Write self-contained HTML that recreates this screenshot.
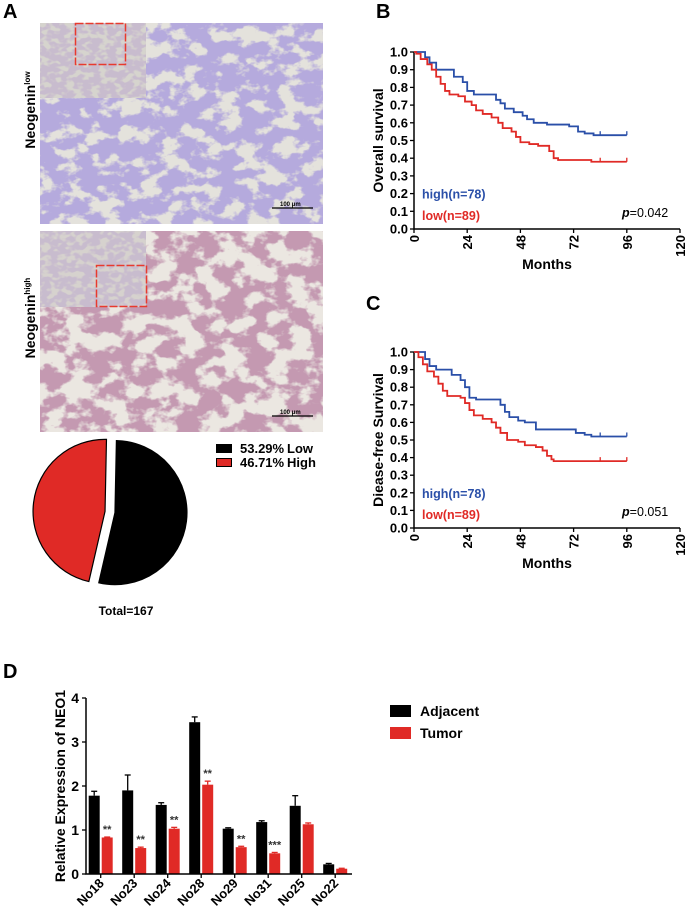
<!DOCTYPE html>
<html><head><meta charset="utf-8">
<style>
body{margin:0;background:#fff;}
svg text{font-family:"Liberation Sans",Arial,sans-serif;font-weight:bold;}
</style></head>
<body>
<svg id="fig" width="685" height="914" viewBox="0 0 685 914" xmlns="http://www.w3.org/2000/svg">
<defs>
  <filter id="noiseLow" x="0" y="0" width="100%" height="100%">
    <feTurbulence type="fractalNoise" baseFrequency="0.05 0.07" numOctaves="4" seed="7" result="n"/>
    <feColorMatrix in="n" type="matrix" values="0 0 0 0 0.46  0 0 0 0 0.40  0 0 0 0 0.72  0 0 0 -8 4.9"/>
  </filter>
  <filter id="noiseHigh" x="0" y="0" width="100%" height="100%">
    <feTurbulence type="fractalNoise" baseFrequency="0.045 0.06" numOctaves="4" seed="11" result="n"/>
    <feColorMatrix in="n" type="matrix" values="0 0 0 0 0.55  0 0 0 0 0.32  0 0 0 0 0.44  0 0 0 -8 4.6"/>
  </filter>
  <filter id="noiseInset" x="0" y="0" width="100%" height="100%">
    <feTurbulence type="fractalNoise" baseFrequency="0.12 0.18" numOctaves="2" seed="3" result="n"/>
    <feColorMatrix in="n" type="matrix" values="0 0 0 0 0.58  0 0 0 0 0.50  0 0 0 0 0.62  0 0 0 -6 3.8"/>
  </filter>
</defs>

<!-- Panel A -->
<text x="3" y="18" font-size="20">A</text>
<g>
  <rect x="40" y="23" width="283" height="201" fill="#e4e2dc"/>
  <rect x="40" y="23" width="283" height="201" filter="url(#noiseLow)"/>
  <rect x="40" y="23" width="106" height="75" fill="#d6d4ce"/>
  <rect x="40" y="23" width="106" height="75" filter="url(#noiseInset)"/>
  <rect x="75.5" y="23.5" width="50" height="41" fill="none" stroke="#e83a2e" stroke-width="1.5" stroke-dasharray="8 2"/>
  <line x1="272" y1="208" x2="313" y2="208" stroke="#000" stroke-width="1.2"/>
  <text x="280" y="206" font-size="6" font-weight="normal">100 μm</text>
</g>
<text transform="translate(35,110) rotate(-90)" text-anchor="middle" font-size="14">Neogenin<tspan font-size="8" dy="-5">low</tspan></text>

<g>
  <rect x="40" y="231" width="283" height="201" fill="#ebe7e1"/>
  <rect x="40" y="231" width="283" height="201" filter="url(#noiseHigh)"/>
  <rect x="40" y="231" width="106" height="76" fill="#d6d2ce"/>
  <rect x="40" y="231" width="106" height="76" filter="url(#noiseInset)"/>
  <rect x="96.5" y="265.5" width="50" height="41" fill="none" stroke="#e83a2e" stroke-width="1.5" stroke-dasharray="8 2"/>
  <line x1="272" y1="416" x2="313" y2="416" stroke="#000" stroke-width="1.2"/>
  <text x="280" y="414" font-size="6" font-weight="normal">100 μm</text>
</g>
<text transform="translate(35,318) rotate(-90)" text-anchor="middle" font-size="14">Neogenin<tspan font-size="8" dy="-5">high</tspan></text>

<g id="pie"></g>
<g>
  <rect x="216" y="444" width="16" height="9" fill="#000"/>
  <text x="240" y="453" font-size="13">53.29%</text>
  <text x="287" y="453" font-size="13">Low</text>
  <rect x="216.5" y="458.5" width="15" height="8" fill="#e02a26" stroke="#000" stroke-width="1"/>
  <text x="240" y="467" font-size="13">46.71%</text>
  <text x="287" y="467" font-size="13">High</text>
</g>
<text x="126" y="615" text-anchor="middle" font-size="12">Total=167</text>

<!-- Panels B, C -->
<text x="376" y="18" font-size="20">B</text>
<text x="366" y="310" font-size="20">C</text>
<g id="kmB"></g>
<g id="kmC"></g>

<!-- Panel D -->
<text x="3" y="678" font-size="20">D</text>
<g id="barD"></g>
<g>
  <rect x="390" y="705" width="21" height="12" fill="#000"/>
  <text x="420" y="716" font-size="14">Adjacent</text>
  <rect x="390" y="727" width="21" height="12" fill="#e02a26"/>
  <text x="420" y="738" font-size="14">Tumor</text>
</g>
</svg>
<script>
const NS='http://www.w3.org/2000/svg';
function mk(tag,attrs,parent,txt){const e=document.createElementNS(NS,tag);for(const k in attrs)e.setAttribute(k,attrs[k]);if(txt!==undefined)e.textContent=txt;parent.appendChild(e);return e;}

// ---------- Pie data ----------
const pieLabels=['Low','High'];
const pieValues=[53.29,46.71];

// ---------- KM data (months, survival) ----------
const bHighT=[0,5,7,10,12,18,22,24,27,37,39,41,45,49,51,54,60,70,74,77,81,96];
const bHighS=[1.0,0.97,0.94,0.90,0.90,0.86,0.83,0.78,0.76,0.73,0.71,0.68,0.66,0.64,0.62,0.60,0.59,0.58,0.55,0.54,0.53,0.53];
const bLowT=[0,1,3,6,8,10,12,14,16,20,23,26,28,31,35,38,40,44,46,48,52,56,61,63,65,80,96];
const bLowS=[1.0,0.99,0.96,0.93,0.90,0.86,0.82,0.78,0.76,0.75,0.72,0.70,0.67,0.65,0.63,0.60,0.57,0.55,0.52,0.49,0.48,0.47,0.44,0.40,0.39,0.38,0.38];
const cHighT=[0,5,7,10,13,17,21,23,25,28,37,39,41,43,47,50,55,70,73,77,80,96];
const cHighS=[1.0,0.96,0.92,0.90,0.90,0.87,0.84,0.80,0.74,0.73,0.73,0.70,0.66,0.63,0.61,0.60,0.56,0.56,0.54,0.53,0.52,0.52];
const cLowT=[0,2,4,6,9,11,13,15,21,23,25,27,31,35,37,39,42,47,50,55,58,60,62,63,96];
const cLowS=[1.0,0.97,0.93,0.89,0.86,0.82,0.78,0.75,0.74,0.71,0.67,0.64,0.62,0.60,0.57,0.54,0.50,0.49,0.47,0.46,0.44,0.41,0.39,0.38,0.38];
const kmXTicks=[0,24,48,72,96,120];
const kmYTicks=[0,0.1,0.2,0.3,0.4,0.5,0.6,0.7,0.8,0.9,1.0];
const censorHigh=[84,96];
const censorLow=[84,96];

// ---------- Bar data ----------
const barCats=['No18','No23','No24','No28','No29','No31','No25','No22'];
const adjVals=[1.78,1.90,1.57,3.45,1.03,1.18,1.55,0.22];
const adjErr=[0.10,0.35,0.05,0.12,0.02,0.03,0.23,0.02];
const tumVals=[0.83,0.59,1.03,2.03,0.61,0.47,1.13,0.12];
const tumErr=[0.01,0.02,0.03,0.08,0.02,0.02,0.03,0.01];
const sigLabels=['**','**','**','**','**','***','',''];
const barYTicks=[0,1,2,3,4];

// ---------- Pie ----------
(function(){
  const g=document.getElementById('pie');
  const cx=110,cy=512,r=72,off=5;
  const total=pieValues.reduce((a,b)=>a+b,0);
  const colors=['#000','#e02a26'];
  let a0=0.02;
  pieValues.forEach((v,i)=>{
    const sweep=v/total*2*Math.PI;
    const a1=a0+sweep, mid=a0+sweep/2;
    const ox=cx+off*Math.sin(mid), oy=cy-off*Math.cos(mid);
    const x0=ox+r*Math.sin(a0),y0=oy-r*Math.cos(a0),x1=ox+r*Math.sin(a1),y1=oy-r*Math.cos(a1);
    const p=mk('path',{d:`M${ox},${oy}L${x0},${y0}A${r},${r} 0 ${sweep>Math.PI?1:0} 1 ${x1},${y1}Z`,fill:colors[i],stroke:'#000','stroke-width':1.2},g);
    
    
    a0=a1;
  });
})();

// ---------- KM ----------
function km(id,y0,y1,ylab,highT,highS,lowT,lowS,pval){
  const g=document.getElementById(id);
  const x0=414,x1=680;
  const X=m=>x0+(x1-x0)*m/120, Y=s=>y0+(y1-y0)*(1-s);
  const ax=mk('path',{d:`M${x0},${y0}V${y1}H${x1}`,fill:'none',stroke:'#000','stroke-width':1.5},g);
  
  
  kmYTicks.forEach(t=>{
    mk('line',{x1:x0-4,x2:x0,y1:Y(t),y2:Y(t),stroke:'#000','stroke-width':1.3},g);
    const tx=mk('text',{x:x0-6,y:Y(t)+4.5,'text-anchor':'end','font-size':13},g,t.toFixed(1));
    
    
  });
  kmXTicks.forEach(t=>{
    mk('line',{x1:X(t),x2:X(t),y1:y1,y2:y1+4,stroke:'#000','stroke-width':1.3},g);
    const tx=mk('text',{transform:`translate(${X(t)+5},${y1+6}) rotate(-90)`,'text-anchor':'end','font-size':13},g,String(t));
    
    
  });
  const xl=mk('text',{x:(x0+x1)/2,y:y1+40,'text-anchor':'middle','font-size':14},g,'Months');
  
  
  const yl=mk('text',{transform:`translate(383,${(y0+y1)/2}) rotate(-90)`,'text-anchor':'middle','font-size':14},g,ylab);
  
  
  function curve(T,S,col,name,cens){
    let d=`M${X(T[0])},${Y(S[0])}`;
    for(let i=1;i<T.length;i++){d+=`H${X(T[i])}V${Y(S[i])}`;}
    const p=mk('path',{d:d,fill:'none',stroke:col,'stroke-width':1.8},g);
    
    
    cens.forEach(c=>{
      let s=S[0];for(let i=0;i<T.length;i++)if(T[i]<=c)s=S[i];
      mk('line',{x1:X(c),x2:X(c),y1:Y(s)-4,y2:Y(s),stroke:col,'stroke-width':1.3},g);
    });
  }
  curve(highT,highS,'#2a4fa8','km-curve-high',censorHigh);
  curve(lowT,lowS,'#e02a26','km-curve-low',censorLow);
  const h=mk('text',{x:422,y:Y(0.2)+5,'font-size':12.5,fill:'#2a4fa8'},g,'high(n=78)');
  
  
  const l=mk('text',{x:422,y:Y(0.08)+5,'font-size':12.5,fill:'#e02a26'},g,'low(n=89)');
  
  
  const pv=mk('text',{x:622,y:Y(0.09)+4,'font-size':12.5},g);
  
  
  mk('tspan',{'font-style':'italic'},pv,'p');
  mk('tspan',{'font-weight':'normal'},pv,'='+pval);
}
km('kmB',52,229,'Overall survival',bHighT,bHighS,bLowT,bLowS,'0.042');
km('kmC',352,528,'Diease-free Survival',cHighT,cHighS,cLowT,cLowS,'0.051');

// ---------- Bars ----------
(function(){
  const g=document.getElementById('barD');
  const x0=86,x1=352,yb=874,yt=698;
  const Y=v=>yb-(yb-yt)*v/4;
  const first=100.7,step=33.5,bw=11;
  const C=i=>first+step*i;
  barYTicks.forEach(t=>{
    mk('line',{x1:x0-4,x2:x0,y1:Y(t),y2:Y(t),stroke:'#000','stroke-width':1.3},g);
    const tx=mk('text',{x:x0-7,y:Y(t)+5,'text-anchor':'end','font-size':14},g,String(t));
    
    
  });
  barCats.forEach((c,i)=>{
    const cx=C(i);
    function bar(v,e,x,col,name){
      const top=Y(v+e);
      mk('line',{x1:x+bw/2,x2:x+bw/2,y1:top,y2:Y(v),stroke:col,'stroke-width':1.3},g);
      mk('line',{x1:x+bw/2-3,x2:x+bw/2+3,y1:top,y2:top,stroke:col,'stroke-width':1.3},g);
      const r=mk('rect',{x:x,y:Y(v),width:bw,height:yb-Y(v),fill:col},g);
      
      
    }
    bar(adjVals[i],adjErr[i],cx-bw-1,'#000','bar-adjacent-'+c.toLowerCase());
    bar(tumVals[i],tumErr[i],cx+1,'#e02a26','bar-tumor-'+c.toLowerCase());
    if(sigLabels[i]){
      const s=mk('text',{x:cx+1+bw/2,y:Y(tumVals[i]+tumErr[i])-4,'text-anchor':'middle','font-size':11,'font-weight':'normal',fill:'#333'},g,sigLabels[i]);
      
      
    }
    mk('line',{x1:cx,x2:cx,y1:yb,y2:yb+4,stroke:'#000','stroke-width':1.3},g);
    const tl=mk('text',{transform:`translate(${cx+4},${yb+10}) rotate(-45)`,'text-anchor':'end','font-size':13},g,c);
    
    
  });
  const ax=mk('path',{d:`M${x0},${yt}V${yb}H${x1}`,fill:'none',stroke:'#000','stroke-width':1.5},g);
  
  
  const yl=mk('text',{transform:`translate(65,786) rotate(-90)`,'text-anchor':'middle','font-size':14},g,'Relative Expression of NEO1');
  
  
})();
</script>
</body></html>
